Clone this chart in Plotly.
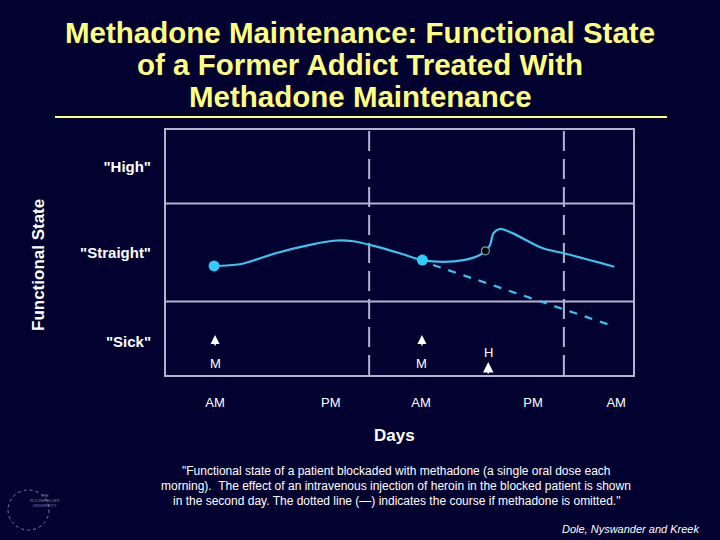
import plotly.graph_objects as go

# functional state curve (x: time units across the two days, y: state level 0-10)
curve_x = [10.3, 15.8, 23.5, 30.8, 35.8, 40.1, 45.1, 50.1, 54.9, 59.4, 63.7, 67.2, 68.4, 69.4, 70.1, 71.5, 74.3, 80.7, 85.2, 96.0]
curve_y = [4.45, 4.52, 4.97, 5.31, 5.48, 5.46, 5.24, 4.97, 4.69, 4.62, 4.69, 4.90, 5.07, 5.31, 5.78, 5.96, 5.78, 5.17, 4.97, 4.42]

# course if methadone is omitted
omit_x = [57.2, 95.1]
omit_y = [4.49, 2.04]

dose_x = [10.3, 54.9]
dose_y = [4.45, 4.69]

heroin_x = [68.4]
heroin_y = [5.07]

tick_pos = [10.5, 35.3, 54.6, 78.6, 96.4]
tick_text = ["AM", "PM", "AM", "PM", "AM"]

state_pos = [1.35, 5.0, 8.5]
state_text = ['<b>"Sick"</b>', '<b>"Straight"</b>', '<b>"High"</b>']

midnight_x = [43.5, 85.2]
band_y = [3, 7]

methadone_x = [10.5, 54.8]
heroin_arrow_x = 69.0

BG = "#020230"
GRID = "#b4b4d2"
BLUE = "#3ec3ee"

L, R, T, B = 166, 633, 130, 375
def px(x):
    return (x - L) / (R - L)
def py(y):
    return (B - y) / (B - T)

fig = go.Figure()

fig.add_trace(go.Scatter(x=curve_x, y=curve_y, mode="lines",
                         line=dict(color=BLUE, width=2.2, shape="spline", smoothing=0.8),
                         hoverinfo="skip"))
fig.add_trace(go.Scatter(x=omit_x, y=omit_y, mode="lines",
                         line=dict(color=BLUE, width=2.2, dash="8px,8px")))
fig.add_trace(go.Scatter(x=dose_x, y=dose_y, mode="markers",
                         marker=dict(color="#30ccf8", size=11)))
fig.add_trace(go.Scatter(x=heroin_x, y=heroin_y, mode="markers",
                         marker=dict(color="#000010", size=8, line=dict(color="#6fa88a", width=1.2))))

shapes = []
for x in midnight_x:
    shapes.append(dict(type="line", xref="x", yref="y", x0=x, x1=x, y0=0, y1=10,
                       line=dict(color=GRID, width=2, dash="20px,8px"), layer="below"))
for y in band_y:
    shapes.append(dict(type="line", xref="paper", yref="y", x0=0, x1=1, y0=y, y1=y,
                       line=dict(color=GRID, width=2), layer="below"))
# title underline
shapes.append(dict(type="line", xref="paper", yref="paper", x0=px(55), x1=px(667), y0=py(117), y1=py(117),
                   line=dict(color="#ffff80", width=2)))
# seal
shapes.append(dict(type="circle", xref="paper", yref="paper", x0=px(8), x1=px(49), y0=py(530), y1=py(490),
                   line=dict(color="#8080a8", width=1, dash="dot")))

annotations = []
for x in methadone_x:
    annotations.append(dict(x=x, y=1.63, xref="x", yref="y", text="", showarrow=True,
                            ax=0, ay=12, arrowhead=2, arrowsize=1.2, arrowwidth=1.5, arrowcolor="white"))
    annotations.append(dict(x=x, y=0.49, xref="x", yref="y", text="M", showarrow=False,
                            font=dict(color="white", size=13, family="Arial")))
annotations.append(dict(x=heroin_arrow_x, y=0.53, xref="x", yref="y", text="", showarrow=True,
                        ax=0, ay=13, arrowhead=2, arrowsize=1.4, arrowwidth=1.5, arrowcolor="white"))
annotations.append(dict(x=heroin_arrow_x, y=0.9, xref="x", yref="y", text="H", showarrow=False,
                        font=dict(color="white", size=13, family="Arial")))

title_lines = ["Methadone Maintenance: Functional State",
               "of a Former Addict Treated With",
               "Methadone Maintenance"]
for i, line in enumerate(title_lines):
    annotations.append(dict(x=px(360), y=py(33 + 32 * i), xref="paper", yref="paper", text="<b>" + line + "</b>",
                            showarrow=False, font=dict(color="#ffff80", size=29.5, family="Arial"),
                            xanchor="center", yanchor="middle"))

annotations.append(dict(x=px(394), y=py(435), xref="paper", yref="paper", text="<b>Days</b>", showarrow=False,
                        font=dict(color="white", size=17, family="Arial"), yanchor="middle"))
annotations.append(dict(x=px(38), y=py(265), xref="paper", yref="paper", text="<b>Functional State</b>",
                        showarrow=False, textangle=-90, font=dict(color="white", size=17, family="Arial"),
                        xanchor="center", yanchor="middle"))

caption = ['"Functional state of a patient blockaded with methadone (a single oral dose each',
           'morning).  The effect of an intravenous injection of heroin in the blocked patient is shown',
           'in the second day. The dotted line (\u2014) indicates the course if methadone is omitted."']
for i, line in enumerate(caption):
    annotations.append(dict(x=px(396), y=py(471 + 15 * i), xref="paper", yref="paper", text=line,
                            showarrow=False, font=dict(color="white", size=12, family="Arial"),
                            xanchor="center", yanchor="middle"))
annotations.append(dict(x=px(701), y=py(529), xref="paper", yref="paper", text="<i>Dole, Nyswander and Kreek</i>",
                        showarrow=False, font=dict(color="white", size=11, family="Arial"),
                        xanchor="right", yanchor="middle"))
annotations.append(dict(x=px(28), y=py(510), xref="paper", yref="paper", text="THE<br>ROCKEFELLER<br>UNIVERSITY",
                        showarrow=False, font=dict(color="#8080a8", size=4, family="Arial")))

fig.update_layout(
    width=720, height=540,
    margin=dict(l=L, r=720 - R, t=T, b=540 - B),
    paper_bgcolor=BG, plot_bgcolor=BG,
    showlegend=False,
    shapes=shapes, annotations=annotations,
    xaxis=dict(range=[0, 100], tickvals=tick_pos, ticktext=tick_text, showgrid=False, zeroline=False,
               showline=True, linecolor=GRID, linewidth=2, mirror=True,
               ticks="outside", ticklen=14, tickcolor="rgba(0,0,0,0)",
               tickfont=dict(color="white", size=13, family="Arial"), fixedrange=True),
    yaxis=dict(range=[0, 10], tickvals=state_pos, ticktext=state_text, showgrid=False, zeroline=False,
               showline=True, linecolor=GRID, linewidth=2, mirror=True,
               ticks="outside", ticklen=10, tickcolor="rgba(0,0,0,0)",
               tickfont=dict(color="white", size=15, family="Arial"), fixedrange=True),
)

fig.write_html("out.html", config={"displayModeBar": False},
               post_script="document.body.style.margin='0'; document.body.style.background='" + BG + "';")
